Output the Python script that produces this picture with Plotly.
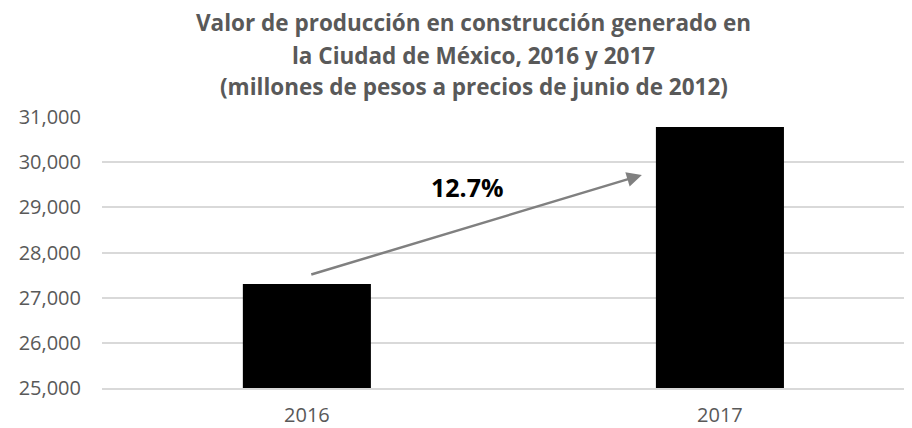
import plotly.graph_objects as go

# ── Data ────────────────────────────────────────────────────────────────────
years = ["2016", "2017"]
values = [27300, 30780]          # millones de pesos a precios de junio de 2012
growth_label = "12.7%"
y_ticks = [25000, 26000, 27000, 28000, 29000, 30000, 31000]

title_lines = [
    "Valor de producción en construcción generado en",
    "la Ciudad de México, 2016 y 2017",
    "(millones de pesos a precios de junio de 2012)",
]

GREY_TEXT = "#595959"
GRID = "#d9d9d9"
FONT = "Open Sans"

fig = go.Figure(go.Bar(
    x=years,
    y=values,
    width=0.31,
    marker=dict(color="#000000", line=dict(width=0)),
    hoverinfo="x+y",
))

# growth arrow from the 2016 bar toward the 2017 bar
fig.add_annotation(
    x=0.811, y=29716, ax=0.007, ay=27502,
    xref="x", yref="y", axref="x", ayref="y",
    text="", showarrow=True,
    arrowhead=2, arrowsize=1.2, arrowwidth=2.5, arrowcolor="#808080",
)
fig.add_annotation(
    x=0.39, y=29440, xref="x", yref="y",
    text=f"<b>{growth_label}</b>", showarrow=False,
    font=dict(family=FONT, size=25, color="#000000"),
)

# title, one annotation per line (Excel-like line spacing)
for line, ypos in zip(title_lines, [1.347, 1.228, 1.112]):
    fig.add_annotation(
        x=0.459, y=ypos, xref="paper", yref="paper",
        xanchor="center", yanchor="middle", showarrow=False,
        text=f"<b>{line}</b>",
        font=dict(family=FONT, size=22.5, color=GREY_TEXT),
    )

fig.update_layout(
    width=904, height=420,
    paper_bgcolor="white", plot_bgcolor="white",
    margin=dict(l=94, r=0, t=109, b=40),
    font=dict(family=FONT, color=GREY_TEXT),
    showlegend=False,
    xaxis=dict(
        type="category", range=[-0.496, 1.465], automargin=False,
        showgrid=False, showline=True, linecolor=GRID, linewidth=1.5,
        ticks="", tickfont=dict(size=20, color=GREY_TEXT),
        ticklabelstandoff=8,
    ),
    yaxis=dict(
        range=[25000, 31000], tickvals=y_ticks, tickformat=",",
        automargin=False,
        showgrid=True, gridcolor=GRID, gridwidth=1.5,
        zeroline=False, showline=False, ticks="",
        tickfont=dict(size=20, color=GREY_TEXT),
        ticklabelstandoff=20,
    ),
)

fig.write_html("out.html")
